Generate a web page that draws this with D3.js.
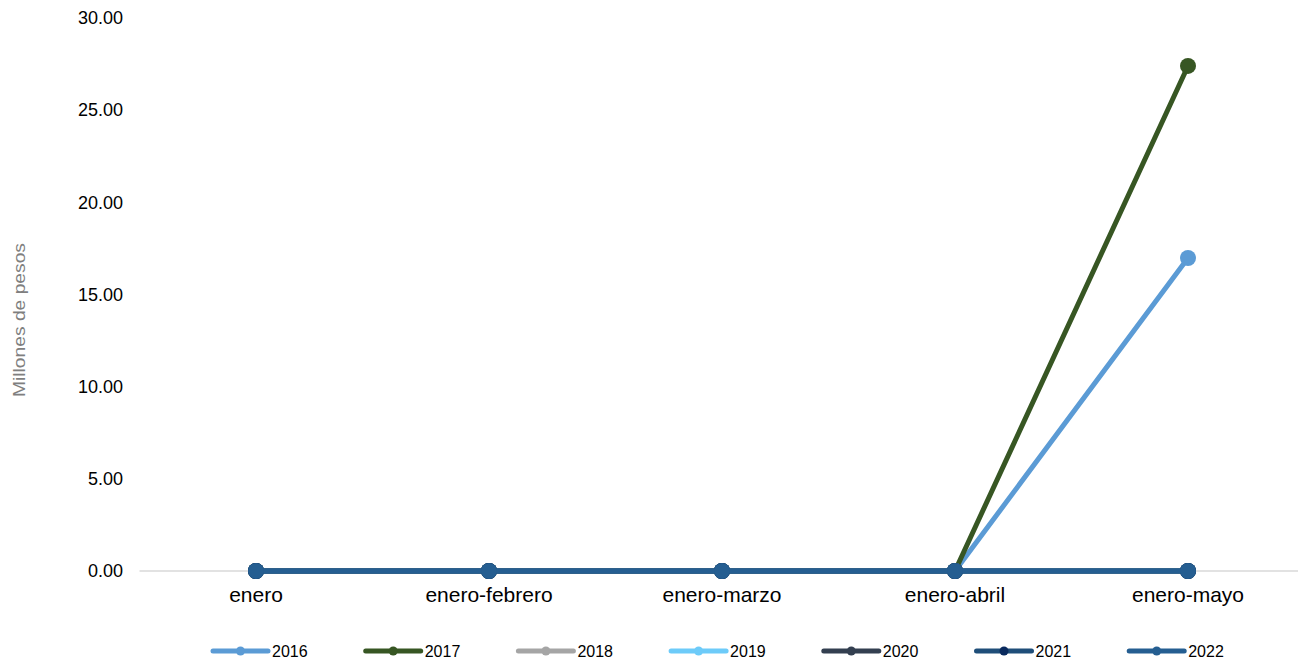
<!DOCTYPE html>
<html><head><meta charset="utf-8">
<script src="https://cdn.jsdelivr.net/npm/d3@7"></script>
<style>body{margin:0;background:#fff}svg{display:block;font-family:"Liberation Sans",Arial,sans-serif}</style>
</head><body><svg id="c" width="1298" height="659"></svg>
<script>
const categories = ["enero","enero-febrero","enero-marzo","enero-abril","enero-mayo"];
const years = ["2016","2017","2018","2019","2020","2021","2022"];
const v2016 = [0,0,0,0,16.98];
const v2017 = [0,0,0,0,27.40];
const v2018 = [0,0,0,0,0];
const v2019 = [0,0,0,0,0];
const v2020 = [0,0,0,0,0];
const v2021 = [0,0,0,0,0];
const v2022 = [0,0,0,0,0];
const yTicks = [0,5,10,15,20,25,30];
const lineColors = ["#5B9BD5","#375623","#A5A5A5","#6DCBF9","#333F50","#1F4E79","#255E91"];
const markerColors = ["#5B9BD5","#375623","#A5A5A5","#6DCBF9","#333F50","#0A2A5E","#255E91"];
const seriesVals = [v2016,v2017,v2018,v2019,v2020,v2021,v2022];

const svg = d3.select("#c");
const x = d3.scaleBand().domain(categories).range([139.5,1304.5]);
const y = d3.scaleLinear().domain([0,30]).range([571,18]);

// baseline
svg.append("line").attr("x1",139.5).attr("x2",1298).attr("y1",y(0)).attr("y2",y(0))
  .attr("stroke","#d9d9d9").attr("stroke-width",1.5);

// y axis labels
const yAxis = d3.axisLeft(y).tickValues(yTicks).tickFormat(d3.format(".2f")).tickSize(0).tickPadding(0);
const ga = svg.append("g").attr("transform","translate(123,0)").call(yAxis);
ga.select(".domain").remove();
ga.selectAll("text").attr("font-size",18).attr("fill","#000").attr("font-family","Liberation Sans, Arial, sans-serif");

// x axis labels
const xAxis = d3.axisBottom(x).tickSize(0).tickPadding(0);
const gx = svg.append("g").attr("transform","translate(0,602)").call(xAxis);
gx.select(".domain").remove();
gx.selectAll("text").attr("font-size",21).attr("fill","#000").attr("dy","0").attr("y",0)
  .attr("font-family","Liberation Sans, Arial, sans-serif");

// y title
svg.append("text").attr("transform","translate(25,320) rotate(-90)").attr("text-anchor","middle")
  .attr("font-size",16).attr("textLength",154).attr("lengthAdjust","spacingAndGlyphs")
  .attr("fill","#7f7f7f").text("Millones de pesos");

const line = d3.line().x((d,i)=>x(categories[i])+x.bandwidth()/2).y(d=>y(d));
seriesVals.forEach((vals,k)=>{
  svg.append("path").datum(vals).attr("d",line).attr("fill","none")
    .attr("stroke",lineColors[k]).attr("stroke-width",5).attr("stroke-linejoin","round");
  svg.selectAll(null).data(vals).enter().append("circle")
    .attr("cx",(d,i)=>x(categories[i])+x.bandwidth()/2).attr("cy",d=>y(d)).attr("r",8)
    .attr("fill",markerColors[k]);
});

// legend
const lg = svg.append("g");
years.forEach((yr,k)=>{
  const x0 = 213 + k*152.7;
  const g = lg.append("g").attr("transform",`translate(${x0},651)`);
  g.append("line").attr("x1",0).attr("x2",55).attr("y1",0).attr("y2",0)
    .attr("stroke",lineColors[k]).attr("stroke-width",5).attr("stroke-linecap","round");
  g.append("circle").attr("cx",27.5).attr("cy",0).attr("r",4.5).attr("fill",markerColors[k]);
  g.append("text").attr("x",59).attr("y",6).attr("font-size",16).attr("fill","#000").text(yr);
});
</script></body></html>
